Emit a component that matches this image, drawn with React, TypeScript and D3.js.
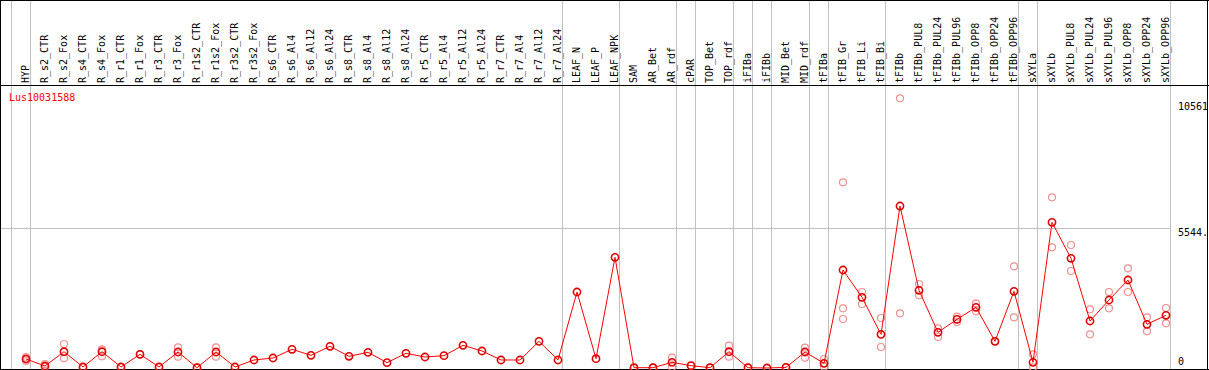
import React from "react";
import * as d3 from "d3";

const categories: string[] = [
  "HYP", "R_s2_CTR", "R_s2_Fox", "R_s4_CTR", "R_s4_Fox", "R_r1_CTR", "R_r1_Fox", "R_r3_CTR", "R_r3_Fox",
  "R_r1s2_CTR", "R_r1s2_Fox", "R_r3s2_CTR", "R_r3s2_Fox", "R_s6_CTR", "R_s6_Al4", "R_s6_Al12", "R_s6_Al24",
  "R_s8_CTR", "R_s8_Al4", "R_s8_Al12", "R_s8_Al24", "R_r5_CTR", "R_r5_Al4", "R_r5_Al12", "R_r5_Al24",
  "R_r7_CTR", "R_r7_Al4", "R_r7_Al12", "R_r7_Al24", "LEAF_N", "LEAF_P", "LEAF_NPK", "SAM", "AR_Bet", "AR_rdf",
  "cPAR", "TOP_Bet", "TOP_rdf", "iFIBa", "iFIBb", "MID_Bet", "MID_rdf", "tFIBa", "tFIB_Gr", "tFIB_Li", "tFIB_Bi",
  "tFIBb", "tFIBb_PUL8", "tFIBb_PUL24", "tFIBb_PUL96", "tFIBb_OPP8", "tFIBb_OPP24", "tFIBb_OPP96", "sXYLa",
  "sXYLb", "sXYLb_PUL8", "sXYLb_PUL24", "sXYLb_PUL96", "sXYLb_OPP8", "sXYLb_OPP24", "sXYLb_OPP96",
];

const meanValues: number[] = [
  357, 79, 647, 40, 647, 40, 544, 40, 635, 12, 635, 40, 318, 397, 742, 504, 861, 464, 622, 212, 583, 437,
  490, 900, 675, 318, 318, 1059, 318, 3017, 370, 4393, 12, 12, 225, 93, 12, 648, 12, 0, 25, 635, 185, 3891,
  2806, 1337, 6431, 3084, 1417, 1933, 2410, 1059, 3045, 225, 5784, 4355, 1866, 2700, 3494, 1735, 2092,
];

const replicateValues: number[][] = [
  [437, 278, 357], [159, 40], [953, 385], [40], [742, 464], [40], [544], [40], [822, 450], [12], [822, 450], [], [],
  [], [], [], [], [], [], [], [], [], [], [], [], [], [], [], [], [], [], [], [12], [12], [410, 40], [93], [12],
  [886, 450], [12], [0], [25], [807, 410], [357, 53], [7373, 2370, 1945], [3017, 2541], [1985, 834], [10707, 2172],
  [3335, 2886], [1576, 1231], [2037, 1826], [2568, 2251], [1059], [4037, 2013], [544, 25], [6777, 4792],
  [4883, 3851], [2330, 1337], [3017, 2370], [3958, 3017], [2013, 1457], [2382, 1775],
];

const groupBreaks: string[] = [
  "HYP", "R_s2_CTR", "LEAF_N", "SAM", "cPAR", "TOP_Bet", "iFIBa", "iFIBb", "MID_Bet", "tFIBa", "tFIB_Gr",
  "tFIBb", "sXYLa", "sXYLb",
];

const axisTicks: { value: number; label: string }[] = [
  { value: 10561, label: "10561" },
  { value: 5544, label: "5544." },
  { value: 0, label: "0" },
];

const geneName = "Lus10031588";
const yMax = 10561;

const W = 1209;
const H = 370;
const FONT = "'DejaVu Sans Mono', 'Liberation Mono', monospace";

export default function App() {
  const x = d3.scaleBand<string>().domain(categories).range([11, 11 + 19 * categories.length]).padding(0);
  const y = d3.scaleLinear().domain([0, yMax]).range([368, 102]);
  const px = (c: string) => (x(c) as number) + 15;
  const plotRight = 11 + 19 * categories.length;

  const line = d3
    .line<number>()
    .x((_, i) => px(categories[i]))
    .y((d) => y(d));

  return (
    <svg
      width={W}
      height={H}
      style={{ position: "absolute", left: 0, top: 0, display: "block", background: "#fff" }}
      shapeRendering="crispEdges"
    >
      <rect x={0} y={0} width={W} height={H} fill="#fff" />
      {groupBreaks.map((c) => (
        <line key={c} x1={(x(c) as number) + 0.5} x2={(x(c) as number) + 0.5} y1={0} y2={H} stroke="#c0c0c0" />
      ))}
      <line x1={plotRight + 0.5} x2={plotRight + 0.5} y1={0} y2={H} stroke="#c0c0c0" />
      <line x1={0} x2={plotRight} y1={Math.round(y(5544)) + 0.5} y2={Math.round(y(5544)) + 0.5} stroke="#c0c0c0" />
      <line x1={0} x2={W} y1={0.5} y2={0.5} stroke="#000" />
      <line x1={0} x2={W} y1={85.5} y2={85.5} stroke="#000" />
      <line x1={0} x2={W} y1={369.5} y2={369.5} stroke="#000" />
      <line x1={0.5} x2={0.5} y1={0} y2={H} stroke="#000" />
      <line x1={1207.5} x2={1207.5} y1={0} y2={H} stroke="#000" />
      {categories.map((c) => {
        const lx = (x(c) as number) + 18;
        return (
          <text
            key={c}
            transform={`translate(${lx},83) rotate(-90)`}
            fontFamily={FONT}
            fontSize={10}
            fill="#000"
            textAnchor="start"
          >
            {c}
          </text>
        );
      })}
      {axisTicks.map((t) => (
        <text
          key={t.label}
          x={1178}
          y={Math.min(y(t.value) + 8, 365)}
          fontFamily={FONT}
          fontSize={10}
          fill="#000"
        >
          {t.label}
        </text>
      ))}
      <text x={9} y={100.5} fontFamily={FONT} fontSize={10} fill="#ff0000">
        {geneName}
      </text>
      <g shapeRendering="auto">
        {replicateValues.map((reps, i) =>
          reps.map((v, j) => (
            <circle
              key={`${i}-${j}`}
              cx={px(categories[i])}
              cy={y(v)}
              r={3.5}
              fill="none"
              stroke="#f09090"
              strokeWidth={1.2}
            />
          ))
        )}
        <path d={line(meanValues) || ""} fill="none" stroke="#ff0000" strokeWidth={1} />
        {meanValues.map((v, i) => (
          <circle
            key={categories[i]}
            cx={px(categories[i])}
            cy={y(v)}
            r={3.6}
            fill="none"
            stroke="#e00000"
            strokeWidth={1.6}
          />
        ))}
      </g>
    </svg>
  );
}
